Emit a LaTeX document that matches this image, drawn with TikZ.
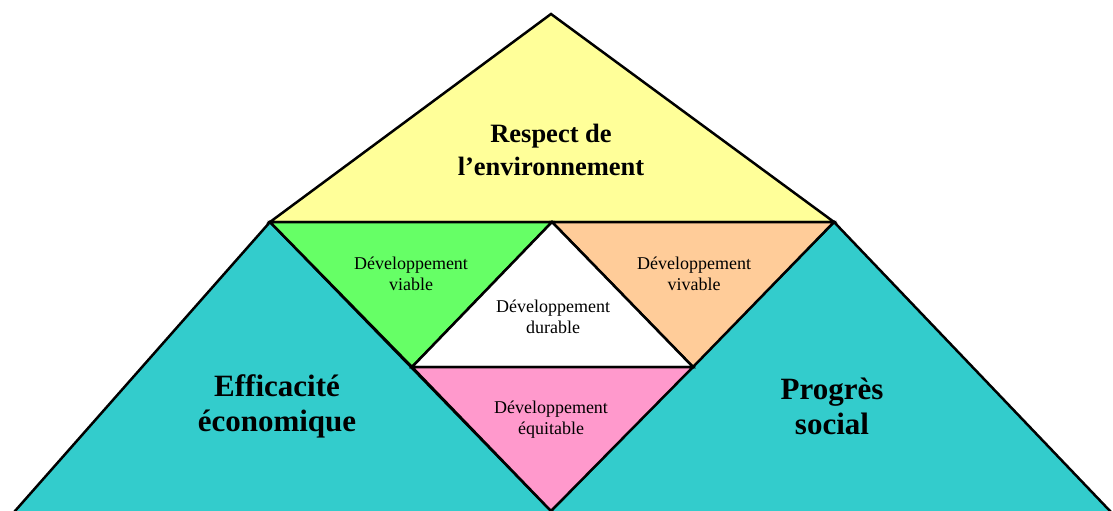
\documentclass[tikz,border=0pt]{standalone}
\usepackage{fontspec}
\setmainfont{Liberation Serif}
\usetikzlibrary{calc}
\definecolor{envyellow}{HTML}{FFFF99}
\definecolor{ecoteal}{HTML}{33CCCC}
\definecolor{viagreen}{HTML}{66FF66}
\definecolor{vivorange}{HTML}{FFCC99}
\definecolor{equipink}{HTML}{FF99CC}
\begin{document}
\begin{tikzpicture}[x=1pt,y=-1pt,line width=2.5pt,line join=miter,
  piece/.style={draw=black},
  bigtext/.style={font=\fontsize{26.5}{33}\selectfont\bfseries,align=center},
  basetext/.style={font=\fontsize{31}{35}\selectfont\bfseries,align=center},
  smalltext/.style={font=\fontsize{18}{21}\selectfont,align=center}]
  \useasboundingbox (0,0) rectangle (1113,511);
  \clip (0,0) rectangle (1113,511);
  \coordinate (T) at (551,14);
  \coordinate (L) at (270,222);
  \coordinate (M) at (552,222);
  \coordinate (R) at (834,222);
  \coordinate (P) at (412,367);
  \coordinate (Q) at (693,367);
  \coordinate (B) at (551,511);
  \coordinate (BL) at (15,511);
  \coordinate (BR) at (1110,511);
  % the two base triangles run past the lower edge
  \fill[ecoteal,piece] (L) -- ($(L)!1.07!(BL)$) -- ($(L)!1.07!(B)$) -- cycle;
  \fill[ecoteal,piece] (R) -- ($(R)!1.07!(B)$) -- ($(R)!1.07!(BR)$) -- cycle;
  \fill[envyellow,piece] (T) -- (L) -- (R) -- cycle;
  \fill[viagreen,piece] (L) -- (M) -- (P) -- cycle;
  \fill[vivorange,piece] (M) -- (R) -- (Q) -- cycle;
  \fill[white,piece] (M) -- (P) -- (Q) -- cycle;
  \fill[equipink,piece] (P) -- (Q) -- (B) -- cycle;

  \node[bigtext] (env) at (551,150) {Respect de\\l’environnement};
  \node[basetext] (eco) at (277,406) {Efficacité\\économique};
  \node[basetext] (soc) at (832,406) {Progrès\\social};
  \node[smalltext] (via) at (411,274) {Développement\\viable};
  \node[smalltext] (viv) at (694,274) {Développement\\vivable};
  \node[smalltext] (dur) at (553,317) {Développement\\durable};
  \node[smalltext] (equ) at (551,420) {Développement\\équitable};
\end{tikzpicture}
\end{document}
